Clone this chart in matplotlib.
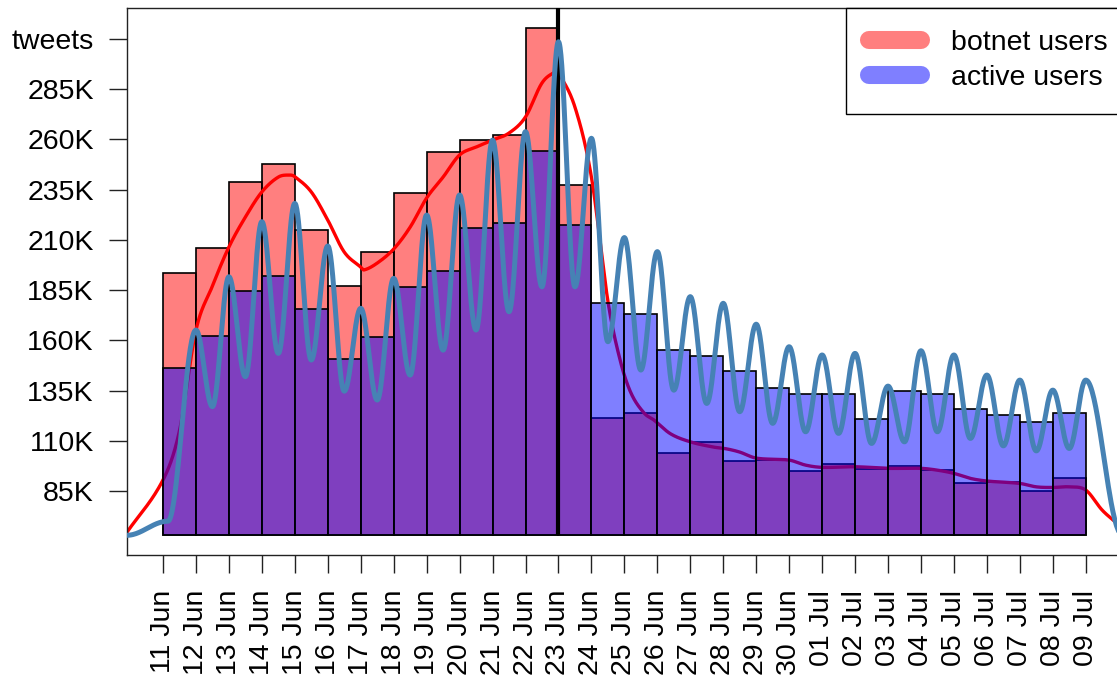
import numpy as np
import matplotlib
matplotlib.use('Agg')
import matplotlib.pyplot as plt
from matplotlib.lines import Line2D

plt.rcParams['font.family'] = ['Liberation Sans', 'DejaVu Sans']

# one tick per day, bar i spans [i, i+1]
day_labels = ['11 Jun', '12 Jun', '13 Jun', '14 Jun', '15 Jun', '16 Jun', '17 Jun',
              '18 Jun', '19 Jun', '20 Jun', '21 Jun', '22 Jun', '23 Jun', '24 Jun',
              '25 Jun', '26 Jun', '27 Jun', '28 Jun', '29 Jun', '30 Jun', '01 Jul',
              '02 Jul', '03 Jul', '04 Jul', '05 Jul', '06 Jul', '07 Jul', '08 Jul', '09 Jul']

# daily tweets (thousands)
botnet_k = [193.5, 205.7, 238.7, 247.7, 214.9, 187.0, 203.8, 233.4, 253.7, 259.5,
            262.0, 315.3, 237.1, 121.2, 123.7, 103.8, 109.5, 99.9, 100.4, 95.1,
            98.3, 95.8, 97.6, 95.4, 88.8, 89.6, 85.1, 91.3]
active_k = [146.0, 162.3, 184.7, 192.0, 175.4, 150.7, 161.8, 186.6, 194.6, 215.7,
            218.5, 254.3, 217.2, 178.4, 173.2, 155.0, 152.3, 144.7, 136.1, 133.1,
            133.3, 120.8, 134.8, 133.1, 125.6, 122.8, 119.2, 123.7]
bar_base = 63.3

# botnet trend curve, read at (day, thousands)
botnet_curve_t = [-1.09, 0, 0.5, 1, 1.5, 2, 2.5, 3, 3.5, 3.85, 4, 4.5, 5, 5.5, 6, 6.1,
                  6.5, 7, 7.5, 8, 8.5, 9, 9.5, 10, 10.5, 11, 11.5, 11.9, 12, 12.5, 13,
                  13.5, 13.87, 14.2, 14.6, 14.9, 15.4, 16.0, 16.7, 17.1, 17.5, 18,
                  19, 19.5, 20, 21, 22, 23, 23.5, 24, 24.5, 25, 26, 26.5, 27, 27.5, 28,
                  28.5, 28.95, 29.1]
botnet_curve_k = [64.6, 90.5, 115.0, 165.0, 187.0, 206.4, 221.3, 233.8, 241.2, 242.2,
                  241.4, 233.8, 219.8, 203.9, 196.4, 195.0, 198.4, 205.4, 216.3, 230.8,
                  241.2, 252.2, 256.1, 259.6, 263.1, 271.1, 288.0, 293.5, 293.0, 276.0,
                  241.2, 179.5, 150.2, 133.8, 123.8, 120.3, 113.5, 109.5, 106.9,
                  106.0, 104.4, 101.4, 100.4, 97.9, 96.8, 97.1, 96.3, 96.3, 95.4, 93.8,
                  91.3, 90.0, 88.8, 87.1, 86.8, 87.1, 85.5, 75.5, 68.9, 66.5]

# active users hourly curve: successive peaks and troughs
active_ext_t = [-1.1, 0.15, 1, 1.5, 2, 2.5, 3, 3.5, 4, 4.5, 5, 5.5, 6, 6.5, 7, 7.5, 8,
                8.5, 9, 9.5, 10, 10.5, 11, 11.5, 12, 12.5, 13, 13.5, 14, 14.5, 15, 15.5,
                16, 16.5, 17, 17.5, 18, 18.5, 19, 19.5, 20, 20.5, 21, 21.5, 22, 22.5, 23,
                23.5, 24, 24.5, 25, 25.5, 26, 26.5, 27, 27.5, 28, 29.1]
active_ext_k = [63.0, 70.0, 165.1, 127.0, 191.6, 141.9, 219.0, 153.5, 228.1, 150.2,
                206.9, 134.7, 175.9, 130.3, 190.8, 142.7, 222.3, 155.1, 232.3, 165.1,
                259.6, 174.2, 263.8, 186.6, 308.5, 186.6, 260.5, 159.3, 211.1, 145.2,
                204.1, 135.2, 181.7, 128.6, 178.4, 124.5, 168.0, 118.7, 156.8, 114.5,
                152.7, 113.7, 153.5, 108.7, 137.2, 109.5, 154.8, 114.5, 152.7, 111.2,
                142.7, 107.5, 140.2, 105.0, 135.2, 106.2, 140.2, 63.5]

split_day = 12  # 23 Jun


def smooth_through(t, v, n=40):
    # cubic hermite through the read points
    t = np.asarray(t, float)
    v = np.asarray(v, float)
    m = np.zeros_like(v)
    m[1:-1] = (v[2:] - v[:-2]) / (t[2:] - t[:-2])
    m[0] = (v[1] - v[0]) / (t[1] - t[0])
    m[-1] = (v[-1] - v[-2]) / (t[-1] - t[-2])
    xs, ys = [], []
    for i in range(len(t) - 1):
        h = t[i + 1] - t[i]
        s = np.linspace(0, 1, n, endpoint=False)
        h00 = 2 * s**3 - 3 * s**2 + 1
        h10 = s**3 - 2 * s**2 + s
        h01 = -2 * s**3 + 3 * s**2
        h11 = s**3 - s**2
        xs.append(t[i] + s * h)
        ys.append(h00 * v[i] + h10 * h * m[i] + h01 * v[i + 1] + h11 * h * m[i + 1])
    xs.append([t[-1]])
    ys.append([v[-1]])
    return np.concatenate(xs), np.concatenate(ys)


def wave_through(t, v, n=40):
    # cosine easing between successive extremes
    xs, ys = [], []
    for i in range(len(t) - 1):
        s = np.linspace(0, 1, n, endpoint=False)
        xs.append(t[i] + s * (t[i + 1] - t[i]))
        ys.append(v[i] + (v[i + 1] - v[i]) * (1 - np.cos(np.pi * s)) / 2)
    xs.append([t[-1]])
    ys.append([v[-1]])
    return np.concatenate(xs), np.concatenate(ys)


fig = plt.figure(figsize=(11.17, 6.79), dpi=100)
ax = fig.add_axes([127 / 1117, 124 / 679, 995 / 1117, 547 / 679])

days = np.arange(len(botnet_k))
bot_h = np.array(botnet_k) - bar_base
act_h = np.array(active_k) - bar_base

ax.bar(days, bot_h, width=1, bottom=bar_base, align='edge',
       color=(1, 0, 0, 0.5), edgecolor='black', linewidth=1.2, zorder=1)
cx, cy = smooth_through(botnet_curve_t, botnet_curve_k)
ax.plot(cx, cy, color='red', lw=2.4, zorder=2)
ax.bar(days, act_h, width=1, bottom=bar_base, align='edge',
       color=(0, 0, 1, 0.5), edgecolor='black', linewidth=1.2, zorder=3)
ax.vlines(split_day, bar_base, 330, color='black', lw=3, zorder=4)
wx, wy = wave_through(active_ext_t, active_ext_k)
ax.plot(wx, wy, color='steelblue', lw=3.6, zorder=5)

ax.set_xlim(-1.092, 29.1)
ax.set_ylim(53.2, 325.3)

yt = [85, 110, 135, 160, 185, 210, 235, 260, 285, 310]
ax.set_yticks(yt)
ax.set_yticklabels(['%dK' % y for y in yt[:-1]] + ['tweets'])
ax.set_xticks(np.arange(len(day_labels)))
ax.set_xticklabels(day_labels, rotation=90)
ax.tick_params(axis='both', direction='out', length=13, width=1.0, labelsize=20.5, color='#222222')
ax.tick_params(axis='y', pad=11)
ax.tick_params(axis='x', pad=12)
for side in ['left', 'top', 'bottom', 'right']:
    ax.spines[side].set_linewidth(1.0)
    ax.spines[side].set_color('#222222')

handles = [Line2D([], [], color=(1, 0, 0, 0.5), lw=13, solid_capstyle='round'),
           Line2D([], [], color=(0, 0, 1, 0.5), lw=13, solid_capstyle='round')]
leg = ax.legend(handles, ['botnet users', 'active users'], loc='upper right',
                bbox_to_anchor=(1 + 8 / 995, 1),
                fontsize=20.5, frameon=True, fancybox=False, framealpha=1,
                edgecolor='black', borderaxespad=0, handlelength=1.85,
                handletextpad=1.05, borderpad=0.78, labelspacing=0.32)
leg.get_frame().set_linewidth(1.0)
leg.set_zorder(10)

fig.savefig('out.png', dpi=100)
